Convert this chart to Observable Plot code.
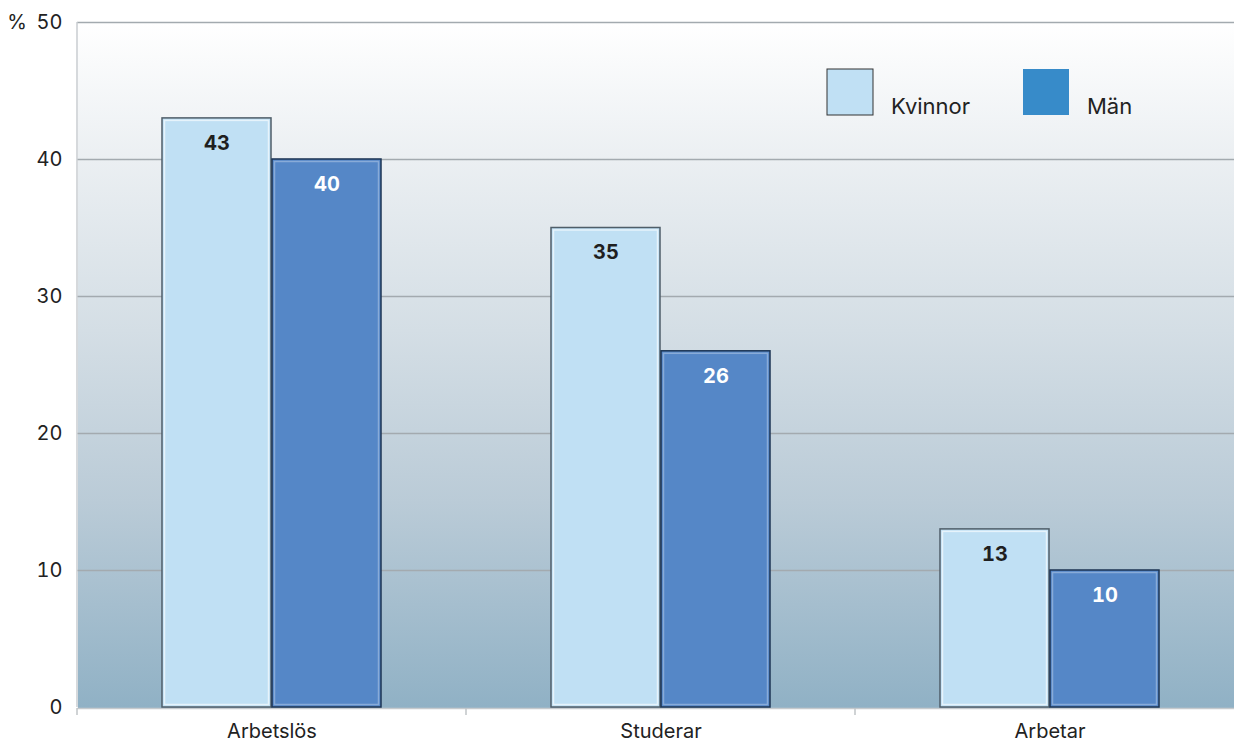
<!DOCTYPE html>
<html>
<head>
<meta charset="utf-8">
<script src="https://cdn.jsdelivr.net/npm/d3@7"></script>
<script src="https://cdn.jsdelivr.net/npm/@observablehq/plot@0.6"></script>
<style>
  html, body { margin: 0; padding: 0; background: #ffffff; overflow: hidden; }
  #chart svg { display: block; }
</style>
</head>
<body>
<div id="chart"></div>
<script>
// Andel (%) per sysselsättning, kvinnor och män
const categories = ["Arbetslös", "Studerar", "Arbetar"];
const series = ["Kvinnor", "Män"];
const kvinnor = [43, 35, 13];
const man = [40, 26, 10];
const yTicks = [0, 10, 20, 30, 40, 50];

const barFill = ["#c0e0f4", "#5587c7"];
const barStroke = ["#4f5e69", "#1c3554"];
const labelFill = ["#1f1f1f", "#ffffff"];
const legendFill = ["#c0e0f4", "#378bc9"];
const fontFamily = "Inter, 'Noto Sans', sans-serif";

const rows = categories.flatMap((c, i) => [
  {category: c, series: series[0], value: kvinnor[i]},
  {category: c, series: series[1], value: man[i]}
]);
const bySeries = (s) => rows.filter((d) => d.series === s);

const chart = Plot.plot({
  width: 1234,
  height: 744,
  marginTop: 22,
  marginBottom: 37,
  marginLeft: 77,
  marginRight: -10,
  style: {fontFamily, fontSize: "20px", color: "#222", background: "transparent"},
  fx: {domain: categories, paddingInner: 0, paddingOuter: 0, label: null},
  x: {domain: series, paddingInner: 0.01, paddingOuter: 0.77, axis: null},
  y: {domain: [0, 50], label: null},
  marks: [
    Plot.frame({fill: "url(#bgGrad)", stroke: null, shapeRendering: "crispEdges"}),
    Plot.gridY(yTicks.filter((t) => t > 0), {stroke: "#a3aaaf", strokeOpacity: 1, strokeWidth: 1.5}),
    Plot.ruleY([0], {stroke: "#c6cacd", strokeWidth: 1.5, dy: 1}),
    Plot.axisY(yTicks, {tickSize: 0, tickPadding: 15, fontSize: 20, fill: "#222"}),
    Plot.axisFx({tickSize: 0, tickPadding: 16, fontSize: 20, fill: "#222", anchor: "bottom"}),
    // bars with a dark outline
    ...series.map((s, k) => Plot.barY(bySeries(s), {
      fx: "category", x: "series", y: "value",
      fill: barFill[k], stroke: barStroke[k], strokeWidth: 1.5
    })),
    // inner bevel highlight
    ...series.map((s, k) => Plot.barY(bySeries(s), {
      fx: "category", x: "series", y: "value",
      fill: "none", stroke: "#ffffff", strokeOpacity: k === 0 ? 0.6 : 0.3, strokeWidth: 1.5,
      insetLeft: 2.5, insetRight: 2.5, insetTop: 2.5, insetBottom: 2.5
    })),
    ...series.map((s, k) => Plot.text(bySeries(s), {
      fx: "category", x: "series", y: "value", text: "value",
      dy: 25, fill: labelFill[k], fontWeight: "bold", fontSize: 20
    }))
  ]
});

document.getElementById("chart").appendChild(chart);

const svg = d3.select(chart);

// vertical background gradient
const grad = svg.insert("defs", ":first-child")
  .append("linearGradient")
  .attr("id", "bgGrad")
  .attr("x1", 0).attr("y1", 0).attr("x2", 0).attr("y2", 1);
[
  [0, "#ffffff"],
  [0.2, "#ebeff2"],
  [0.45, "#d4dee5"],
  [0.7, "#bacbd7"],
  [1, "#90b1c5"]
].forEach(([o, c]) => grad.append("stop").attr("offset", o).attr("stop-color", c));

// left edge line and category boundary ticks
const fx = chart.scale("fx");
const y = chart.scale("y");
const step = fx.step ?? (fx.range[1] - fx.range[0]) / categories.length;
const x0 = fx.range[0];
const y0 = y.apply(0);
const yTop = y.apply(50);
const deco = svg.append("g");
deco.append("line")
  .attr("x1", x0).attr("x2", x0).attr("y1", yTop).attr("y2", y0)
  .attr("stroke", "#c8ccd0").attr("stroke-width", 1.5);
categories.forEach((c, i) => {
  const xb = x0 + i * step;
  deco.append("line")
    .attr("x1", xb).attr("x2", xb).attr("y1", y0 + 1).attr("y2", y0 + 8)
    .attr("stroke", "#c0c4c7").attr("stroke-width", 1.5);
});

// unit label
svg.append("text")
  .attr("x", 27).attr("y", yTop)
  .attr("dy", "0.35em")
  .attr("text-anchor", "end")
  .attr("font-size", 20).attr("fill", "#222")
  .attr("font-family", fontFamily)
  .text("%");

// legend
const legend = svg.append("g")
  .attr("font-family", fontFamily)
  .attr("text-anchor", "start");
series.forEach((s, k) => {
  const lx = 827 + k * 196;
  legend.append("rect")
    .attr("x", lx).attr("y", 69).attr("width", 46).attr("height", 46)
    .attr("fill", legendFill[k])
    .attr("stroke", k === 0 ? "#333" : "none").attr("stroke-width", 1);
  legend.append("text")
    .attr("x", lx + 64).attr("y", 114)
    .attr("font-size", 22).attr("fill", "#222")
    .text(s);
});
</script>
</body>
</html>
